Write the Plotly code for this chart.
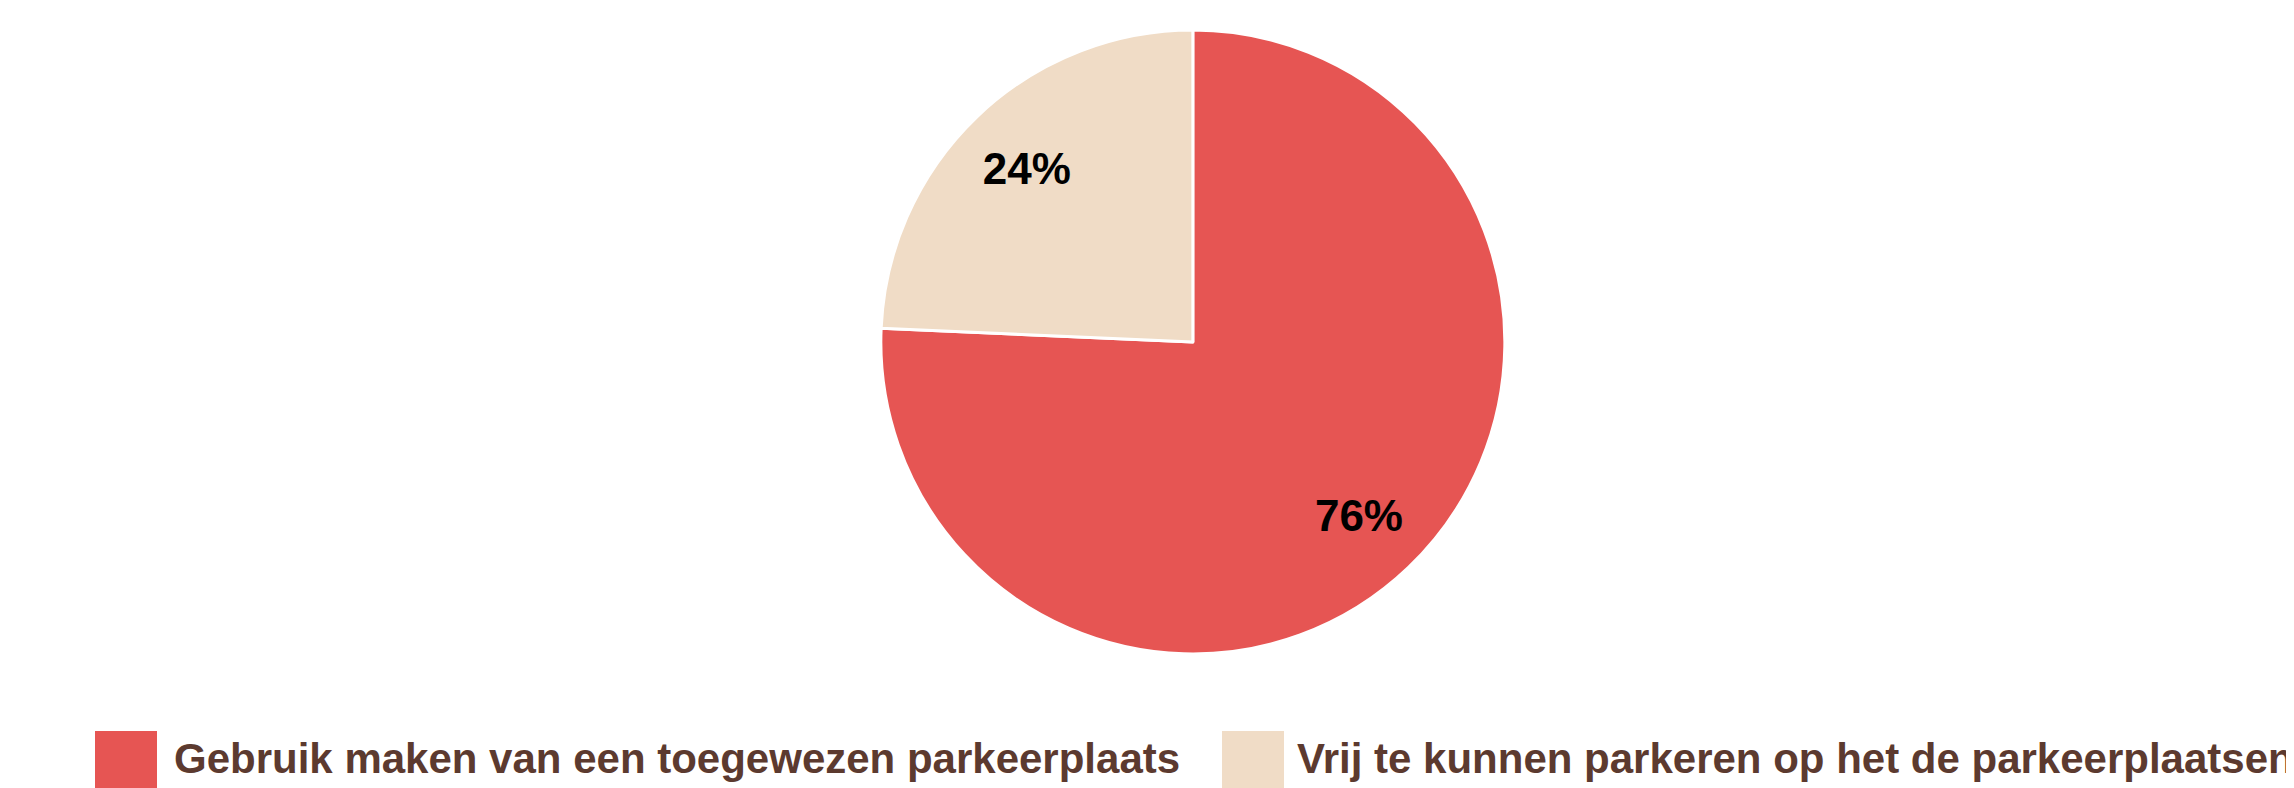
import plotly.graph_objects as go

LABELS = [
    "Gebruik maken van een toegewezen parkeerplaats",
    "Vrij te kunnen parkeren op het de parkeerplaatsen",
]
VALUES = [75.7, 24.3]
COLORS = ["#E65553", "#F0DCC6"]

TEXT_BROWN = "#5C3A2F"
FONT = "Liberation Sans, Arial, sans-serif"

W, H = 2294, 788
TOP, BOTTOM = 22, 142
PLOT_H = H - TOP - BOTTOM
DOMAIN_X = [0.3165, 0.7165]


def py(ypix):
    # pixel from top -> paper y
    return (H - BOTTOM - ypix) / PLOT_H


fig = go.Figure()

# filled pie, no text
fig.add_trace(go.Pie(
    labels=LABELS,
    values=VALUES,
    sort=False,
    direction="clockwise",
    marker=dict(colors=COLORS, line=dict(color="white", width=3)),
    textinfo="none",
    domain=dict(x=DOMAIN_X, y=[0, 1]),
    hoverinfo="label+percent",
    showlegend=False,
))

# transparent ring on top, only to place the percentage labels further out
fig.add_trace(go.Pie(
    labels=LABELS,
    values=VALUES,
    sort=False,
    direction="clockwise",
    hole=0.54,
    marker=dict(colors=["rgba(0,0,0,0)"] * len(LABELS), line=dict(width=0)),
    texttemplate="%{percent:.0%}",
    textposition="inside",
    insidetextorientation="horizontal",
    textfont=dict(family=FONT, size=44, color="black", weight="bold"),
    domain=dict(x=DOMAIN_X, y=[0, 1]),
    hoverinfo="skip",
    showlegend=False,
))

# custom legend with large square swatches
swatch_x = [87, 1214]
text_x = [164, 1287]
for lab, col, sx, tx in zip(LABELS, COLORS, swatch_x, text_x):
    fig.add_shape(
        type="rect", xref="paper", yref="paper",
        x0=sx / W, x1=(sx + 62) / W, y0=py(723), y1=py(800),
        fillcolor=col, line=dict(width=0),
    )
    fig.add_annotation(
        x=tx / W, y=py(750), xref="paper", yref="paper",
        text=lab, showarrow=False, xanchor="left", yanchor="middle",
        font=dict(family=FONT, size=42, color=TEXT_BROWN, weight="bold"),
    )

fig.update_layout(
    width=W, height=H,
    margin=dict(l=0, r=0, t=TOP, b=BOTTOM),
    paper_bgcolor="white",
    plot_bgcolor="white",
)

fig.write_html("out.html")
